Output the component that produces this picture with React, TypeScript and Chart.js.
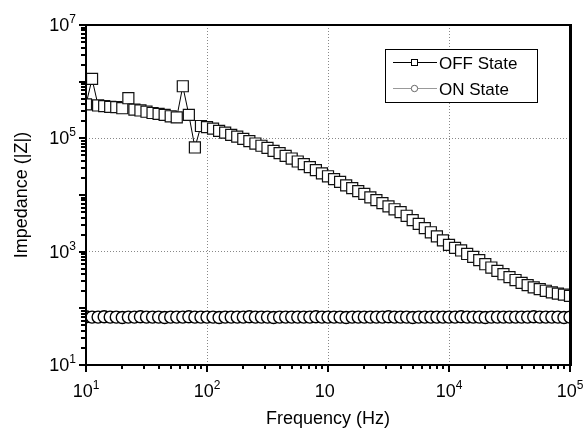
import React, { useEffect, useRef } from "react";
import { Chart, registerables } from "chart.js";

Chart.register(...registerables);

// Frequency sweep (Hz)
const frequencies = [
  10, 11.22, 12.59, 14.13, 15.85, 17.78, 19.95, 22.39, 25.12, 28.18,
  31.62, 35.48, 39.81, 44.67, 50.12, 56.23, 63.1, 70.79, 79.43, 89.13,
  100, 112.2, 125.9, 141.3, 158.5, 177.8, 199.5, 223.9, 251.2, 281.8,
  316.2, 354.8, 398.1, 446.7, 501.2, 562.3, 631.0, 707.9, 794.3, 891.3,
  1000, 1122, 1259, 1413, 1585, 1778, 1995, 2239, 2512, 2818,
  3162, 3548, 3981, 4467, 5012, 5623, 6310, 7079, 7943, 8913,
  10000, 11220, 12590, 14130, 15850, 17780, 19950, 22390, 25120, 28180,
  31620, 35480, 39810, 44670, 50120, 56230, 63100, 70790, 79430, 89130,
  100000,
];

// |Z| in OFF state (ohm)
const offStateZ = [
  398000, 1120000, 380000, 370000, 360000, 355000, 340000, 510000, 320000, 310000,
  295000, 280000, 270000, 260000, 245000, 235000, 830000, 260000, 69000, 165000,
  158000, 148000, 135000, 126000, 115000, 107000, 98000, 89000, 81000, 74000,
  68000, 60000, 55000, 49000, 44000, 39000, 35000, 31000, 27500, 24000,
  21400, 19000, 17000, 14800, 13200, 11700, 10500, 9100, 8100, 7200,
  6300, 5600, 5000, 4300, 3600, 3100, 2600, 2200, 1860, 1580,
  1320, 1170, 1050, 910, 810, 710, 600, 525, 457, 400,
  355, 316, 282, 257, 234, 219, 204, 191, 182, 174,
  166,
];

// |Z| in ON state (ohm)
const onStateZ = [
  71, 70, 70, 71, 70, 70, 69, 70, 70, 71,
  70, 70, 70, 69, 70, 70, 70, 71, 70, 70,
  70, 70, 69, 70, 70, 70, 70, 71, 70, 70,
  70, 69, 70, 70, 70, 70, 70, 70, 71, 70,
  70, 70, 70, 69, 70, 70, 70, 70, 70, 70,
  71, 70, 70, 70, 69, 70, 70, 70, 70, 70,
  70, 70, 71, 70, 70, 70, 69, 70, 70, 70,
  70, 70, 70, 70, 71, 70, 70, 70, 70, 69,
  70,
];

const seriesLabels = ["OFF State", "ON State"];

const xTickValues = [10, 100, 1000, 10000, 100000];
const xTickSup = ["1", "2", "", "4", "5"];
const xGridValues = [100, 1000, 10000];

const yTickValues = [10, 100, 1000, 10000, 100000, 1000000, 10000000];
const yTickSup = ["1", "", "3", "", "5", "", "7"];
const yGridValues = [1000, 100000];

const minorMultipliers = [2, 3, 4, 5, 6, 7, 8, 9];

const FONT = '"Liberation Sans", Arial, Helvetica, sans-serif';

const decorPlugin = {
  id: "decor",
  afterDraw(chart: any) {
    const { ctx, chartArea: a, scales } = chart;
    const xs = scales.x;
    const ys = scales.y;
    ctx.save();
    ctx.setLineDash([]);

    // frame
    ctx.fillStyle = "#000";
    const L = Math.round(a.left), R = Math.round(a.right), T = Math.round(a.top), B = Math.round(a.bottom);
    ctx.fillRect(L - 1, T - 1, R - L + 2, 2);
    ctx.fillRect(L - 1, B - 1, R - L + 2, 2);
    ctx.fillRect(L - 1, T - 1, 2, B - T + 2);
    ctx.fillRect(R - 1, T - 1, 3, B - T + 2);

    // outward ticks: major per decade, minor 2..9
    for (let i = 0; i < xTickValues.length; i++) {
      const dec = xTickValues[i];
      const px = Math.round(xs.getPixelForValue(dec));
      ctx.fillRect(px - 1, B, 2, 7);
      if (i < xTickValues.length - 1) {
        minorMultipliers.forEach((m) => {
          const mx = Math.round(xs.getPixelForValue(dec * m));
          ctx.fillRect(mx - 1, B, 2, 4);
        });
      }
    }
    for (let i = 0; i < yTickValues.length; i++) {
      const dec = yTickValues[i];
      const py = Math.round(ys.getPixelForValue(dec));
      ctx.fillRect(L - 7, py - 1, 7, 2);
      if (i < yTickValues.length - 1) {
        minorMultipliers.forEach((m) => {
          const my = Math.round(ys.getPixelForValue(dec * m));
          ctx.fillRect(L - 5, my - 1, 5, 2);
        });
      }
    }

    // tick labels with superscripts
    const baseFont = `18px ${FONT}`;
    const supFont = `12px ${FONT}`;
    ctx.fillStyle = "#000";
    ctx.textBaseline = "alphabetic";
    ctx.textAlign = "left";
    for (let i = 0; i < xTickValues.length; i++) {
      const px = xs.getPixelForValue(xTickValues[i]);
      ctx.font = baseFont;
      const bw = ctx.measureText("10").width;
      ctx.font = supFont;
      const sw = ctx.measureText(xTickSup[i] || "3").width;
      const start = px - (bw + sw) / 2;
      const bb = a.bottom + 32;
      ctx.font = baseFont;
      ctx.fillText("10", start, bb);
      if (xTickSup[i]) {
        ctx.font = supFont;
        ctx.fillText(xTickSup[i], start + bw, bb - 8);
      }
    }
    for (let i = 0; i < yTickValues.length; i++) {
      if (!yTickSup[i]) continue;
      const py = ys.getPixelForValue(yTickValues[i]);
      ctx.font = supFont;
      const sw = ctx.measureText(yTickSup[i]).width;
      ctx.font = baseFont;
      const bw = ctx.measureText("10").width;
      const right = a.left - 10;
      const bb = py + 6;
      ctx.fillText("10", right - sw - bw, bb);
      ctx.font = supFont;
      ctx.fillText(yTickSup[i], right - sw, bb - 8);
    }

    // legend
    const lx = 385.5, ly = 49.5, lw = 152, lh = 53;
    ctx.fillStyle = "#fff";
    ctx.fillRect(lx, ly, lw, lh);
    ctx.strokeStyle = "#000";
    ctx.lineWidth = 1;
    ctx.strokeRect(lx, ly, lw, lh);
    const rows = [
      { y: 62.5, line: "#000", marker: "rect" },
      { y: 88.5, line: "#999", marker: "circle" },
    ];
    rows.forEach((r, i) => {
      ctx.strokeStyle = r.line;
      ctx.lineWidth = 1;
      ctx.beginPath();
      ctx.moveTo(393, r.y);
      ctx.lineTo(437, r.y);
      ctx.stroke();
      ctx.fillStyle = "#fff";
      ctx.strokeStyle = i === 0 ? "#000" : "#666";
      if (r.marker === "rect") {
        ctx.fillRect(411.5, r.y - 3, 6, 6);
        ctx.strokeRect(411.5, r.y - 3, 6, 6);
      } else {
        ctx.beginPath();
        ctx.arc(414.5, r.y, 3.2, 0, Math.PI * 2);
        ctx.fill();
        ctx.stroke();
      }
      ctx.fillStyle = "#000";
      ctx.font = `17px ${FONT}`;
      ctx.fillText(seriesLabels[i], 439, r.y + 6);
    });

    ctx.restore();
  },
};

export default function App() {
  const ref = useRef<HTMLCanvasElement | null>(null);

  useEffect(() => {
    if (!ref.current) return;
    const offPoints = frequencies.map((f, i) => ({ x: f, y: offStateZ[i] }));
    const onPoints = frequencies.map((f, i) => ({ x: f, y: onStateZ[i] }));
    const chart = new Chart(ref.current, {
      type: "line",
      data: {
        datasets: [
          {
            label: seriesLabels[0],
            data: offPoints,
            borderColor: "#000",
            borderWidth: 1,
            pointStyle: "rect",
            pointRadius: 7.8,
            pointBackgroundColor: "#fff",
            pointBorderColor: "#111",
            pointBorderWidth: 1.2,
            tension: 0,
          },
          {
            label: seriesLabels[1],
            data: onPoints,
            borderColor: "#999",
            borderWidth: 1,
            pointStyle: "circle",
            pointRadius: 6,
            pointBackgroundColor: "#fff",
            pointBorderColor: "#000",
            pointBorderWidth: 1.4,
            tension: 0,
          },
        ],
      },
      options: {
        responsive: false,
        animation: false,
        devicePixelRatio: 1,
        layout: { padding: { left: 0, right: 16, top: 25, bottom: 0 } },
        plugins: { legend: { display: false }, tooltip: { enabled: false } },
        scales: {
          x: {
            type: "logarithmic",
            min: 10,
            max: 100000,
            afterBuildTicks: (s: any) => {
              s.ticks = xTickValues.map((v) => ({ value: v }));
            },
            afterFit: (s: any) => {
              s.height = 71;
            },
            ticks: { display: false },
            grid: {
              drawTicks: false,
              lineWidth: 1,
              color: (c: any) =>
                c.tick && xGridValues.includes(c.tick.value) ? "#888" : "rgba(0,0,0,0)",
            },
            border: { display: false, dash: [1, 2] },
            title: {
              display: true,
              text: "Frequency (Hz)",
              color: "#000",
              font: { size: 18, family: FONT },
              padding: { top: 0, bottom: 6 },
            },
          },
          y: {
            type: "logarithmic",
            min: 10,
            max: 10000000,
            afterBuildTicks: (s: any) => {
              s.ticks = yTickValues.map((v) => ({ value: v }));
            },
            afterFit: (s: any) => {
              s.width = 86;
            },
            ticks: { display: false },
            grid: {
              drawTicks: false,
              lineWidth: 1,
              color: (c: any) =>
                c.tick && yGridValues.includes(c.tick.value) ? "#888" : "rgba(0,0,0,0)",
            },
            border: { display: false, dash: [1, 2] },
            title: {
              display: true,
              text: "Impedance (|Z|)",
              color: "#000",
              font: { size: 18, family: FONT },
              padding: { top: 11, bottom: 0 },
            },
          },
        },
      },
      plugins: [decorPlugin],
    } as any);
    return () => chart.destroy();
  }, []);

  return (
    <div style={{ position: "fixed", left: 0, top: 0, width: 586, height: 436, background: "#fff" }}>
      <canvas ref={ref} width={586} height={436} style={{ width: 586, height: 436 }} />
    </div>
  );
}
